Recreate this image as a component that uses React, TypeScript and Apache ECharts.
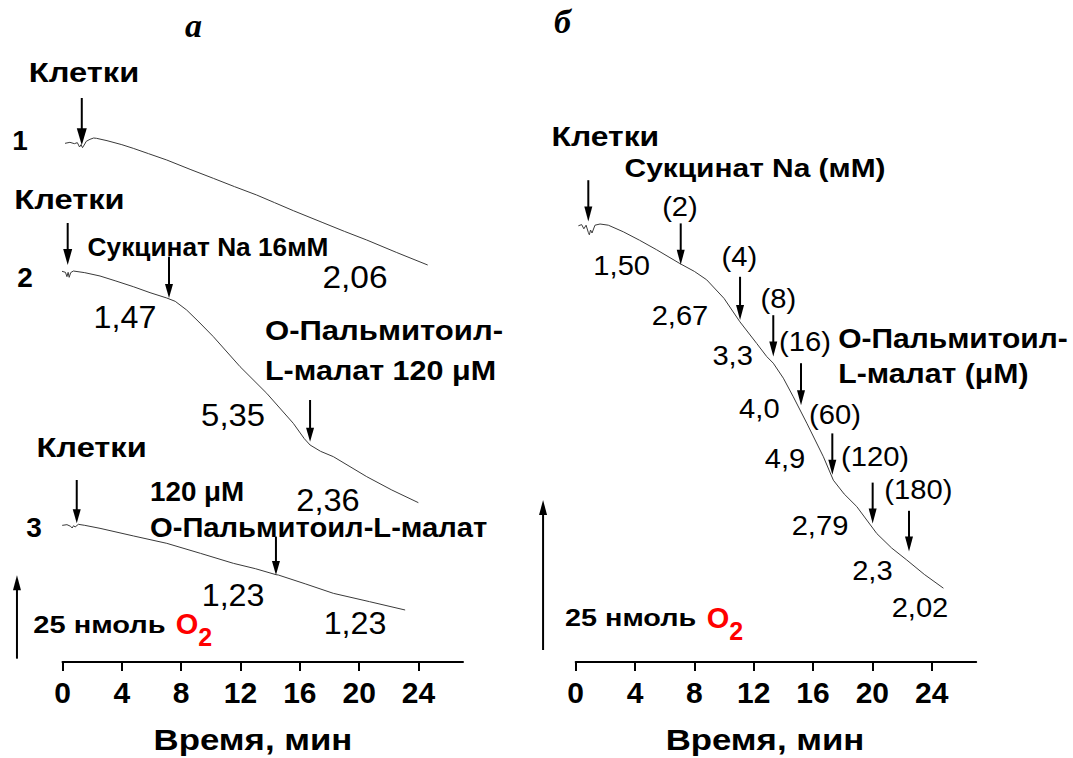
import React, { useEffect, useRef } from "react";
import * as echarts from "echarts";

const FONT = '"Liberation Sans", Arial, Helvetica, sans-serif';

// x axis ticks (minutes)
const xTicks = [0, 4, 8, 12, 16, 20, 24];
const xName = "Время, мин";

// ---- Panel "а": O2 traces, [time (min), O2 (relative nmol)] ----
const traceA1 = [
  [0.17, 155.6], [0.5, 155.9], [0.8, 155.5], [1.0, 155.8], [1.15, 154.5], [1.25, 155.2],
  [1.35, 154.3], [1.5, 155.4], [1.6, 156.2], [1.85, 156.8], [2.1, 157.2], [2.3, 157.1],
  [3.0, 156.4], [4.0, 155.2], [4.77, 154.1], [5.8, 152.5], [7.03, 150.6], [8.6, 147.8],
  [10.17, 145.1], [11.6, 142.6], [13.09, 140.1], [14.3, 137.8], [15.56, 135.4],
  [17.5, 131.9], [19.0, 129.2], [20.51, 126.6], [22.5, 122.9], [24.62, 119.1],
];
const traceA2 = [
  [-0.39, 117.1], [-0.1, 117.3], [0.2, 116.9], [0.3, 115.6], [0.38, 116.9], [0.45, 115.4],
  [0.55, 116.8], [0.73, 117.3], [1.5, 116.8], [2.53, 115.8], [3.6, 114.3], [4.77, 112.6],
  [5.9, 110.8], [7.03, 109.2], [7.6, 108.2], [8.37, 105.6], [9.2, 102.0], [10.17, 97.6],
  [11.97, 88.6], [13.77, 80.6], [15.56, 71.6], [16.3, 67.0], [16.69, 65.1], [17.4, 63.2],
  [18.26, 61.6], [20.51, 55.6], [22.2, 51.6], [23.99, 47.8],
];
const traceA3 = [
  [-0.51, 41.1], [0.0, 41.0], [0.3, 41.2], [0.55, 40.7], [0.65, 40.2], [0.75, 40.9],
  [0.85, 40.5], [1.07, 41.3], [1.5, 41.0], [2.53, 40.1], [4.8, 37.8], [7.03, 35.6],
  [9.3, 32.6], [11.52, 29.6], [13.0, 28.0], [14.39, 26.2], [14.55, 26.1], [16.4, 23.4],
  [18.26, 20.6], [20.7, 18.1], [23.1, 15.6],
];

// ---- Panel "б" ----
const traceB = [
  [0.18, 72.7], [0.4, 72.9], [0.55, 72.2], [0.7, 72.8], [0.85, 71.6], [0.92, 71.2],
  [1.0, 72.0], [1.1, 71.5], [1.3, 72.8], [1.64, 73.0], [2.2, 72.8], [3.21, 71.7],
  [4.3, 70.3], [5.46, 68.7], [7.03, 66.4], [8.0, 65.1], [8.83, 63.7], [10.0, 60.6],
  [11.07, 56.7], [12.2, 53.1], [12.88, 50.9], [13.32, 49.8], [14.0, 47.3], [14.67, 44.2],
  [15.58, 39.8], [16.7, 34.2], [17.37, 30.3], [18.1, 28.0], [18.95, 25.9], [20.3, 21.4],
  [21.3, 19.0], [22.32, 17.0], [23.5, 14.6], [24.79, 12.3],
];

// Arrows: [time, y start, y tip, head width, head length]
const arrowsA = [
  [1.3, 169.2, 155.0, 10, 17],
  [0.35, 131.7, 119.1, 9, 16],
  [7.18, 121.6, 109.2, 8, 14],
  [16.69, 78.6, 66.1, 8, 14],
  [0.96, 54.6, 41.6, 8, 14],
  [14.39, 37.6, 26.1, 8, 14],
];
const scaleA = [[-3.07, 1, 26, 8, 15]];
const arrowsB = [
  [0.85, 80.3, 73.4, 8, 15],
  [7.08, 73.1, 66.2, 8, 15],
  [11.08, 64.2, 57.0, 8, 15],
  [13.32, 57.8, 50.9, 8, 15],
  [15.19, 49.8, 42.8, 8, 15],
  [17.3, 38.1, 31.2, 8, 15],
  [20.02, 29.9, 23.1, 8, 15],
  [22.47, 25.2, 18.4, 8, 15],
];
const scaleB = [[-2.2, 2, 27, 8, 15]];

// Text annotations: [time, y, text, fontSize, weight, align, horizontal stretch]
const labelsA = [
  [1.45, 176.7, "Клетки", 27, "bold", "center", 1.21],
  [-2.87, 156.6, "1", 28, "bold", "center", 1],
  [0.47, 138.6, "Клетки", 27, "bold", "center", 1.21],
  [-2.53, 115.5, "2", 28, "bold", "center", 1],
  [9.81, 124.5, "Сукцинат Na 16мМ", 25, "bold", "center", 1.05],
  [19.72, 115.5, "2,06", 31, "normal", "center", 1.08],
  [4.21, 103.5, "1,47", 31, "normal", "center", 1.04],
  [13.65, 99.6, "О-Пальмитоил-", 28, "bold", "left", 1.11],
  [13.65, 87.6, "L-малат 120 μM", 28, "bold", "left", 1.09],
  [11.5, 74.1, "5,35", 31, "normal", "center", 1.06],
  [1.96, 64.2, "Клетки", 27, "bold", "center", 1.21],
  [-1.92, 40.5, "3", 28, "bold", "center", 1],
  [5.9, 51.0, "120 μM", 27, "bold", "left", 1.03],
  [5.9, 40.2, "О-Пальмитоил-L-малат", 27, "bold", "left", 1.08],
  [17.9, 48.6, "2,36", 31, "normal", "center", 1.05],
  [11.5, 20.1, "1,23", 31, "normal", "center", 1.04],
  [19.72, 11.7, "1,23", 31, "normal", "center", 1.04],
  [-1.97, 11.1, "25 нмоль", 24, "bold", "left", 1.21],
  [12.84, -23.4, xName, 30, "bold", "center", 1.16],
];
const labelsB = [
  [2.0, 87.6, "Клетки", 27, "bold", "center", 1.18],
  [12.09, 82.3, "Сукцинат Na (мМ)", 26, "bold", "center", 1.15],
  [7.03, 75.8, "(2)", 27, "normal", "center", 1.08],
  [3.1, 66.2, "1,50", 28, "normal", "center", 1.04],
  [11.03, 67.6, "(4)", 27, "normal", "center", 1.08],
  [7.03, 57.8, "2,67", 28, "normal", "center", 1.04],
  [13.66, 60.6, "(8)", 27, "normal", "center", 1.08],
  [15.46, 53.4, "(16)", 27, "normal", "center", 1.08],
  [17.7, 53.95, "О-Пальмитоил-", 27, "bold", "left", 1.11],
  [17.7, 48.1, "L-малат (μM)", 27, "bold", "left", 1.12],
  [10.58, 51.2, "3,3", 28, "normal", "center", 1.04],
  [17.48, 41.2, "(60)", 27, "normal", "center", 1.08],
  [12.38, 42.3, "4,0", 28, "normal", "center", 1.04],
  [20.18, 34.2, "(120)", 27, "normal", "center", 1.08],
  [14.11, 33.95, "4,9", 28, "normal", "center", 1.04],
  [23.1, 28.7, "(180)", 27, "normal", "center", 1.08],
  [16.47, 22.8, "2,79", 28, "normal", "center", 1.04],
  [20.0, 15.3, "2,3", 28, "normal", "center", 1.04],
  [23.21, 9.2, "2,02", 28, "normal", "center", 1.04],
  [-0.72, 7.3, "25 нмоль", 24, "bold", "left", 1.2],
  [12.76, -13.0, xName, 30, "bold", "center", 1.16],
];
// "O2" of the scale labels: [time, y]
const o2A = [[7.63, 9.9]];
const o2B = [[8.83, 6.5]];
const o2Text = "{r|O}{s|2}";

function arrowRender(params: any, api: any) {
  const x = api.value(0);
  const p1 = api.coord([x, api.value(1)]);
  const p2 = api.coord([x, api.value(2)]);
  const w = api.value(3);
  const h = api.value(4);
  const d = p2[1] > p1[1] ? 1 : -1;
  const by = p2[1] - d * h;
  return {
    type: "group",
    children: [
      {
        type: "line",
        shape: { x1: p1[0], y1: p1[1], x2: p2[0], y2: by + d * 2 },
        style: { stroke: "#000", lineWidth: 2 },
      },
      {
        type: "polygon",
        shape: { points: [[p2[0], p2[1]], [p2[0] - w / 2, by], [p2[0] + w / 2, by]] },
        style: { fill: "#000" },
      },
    ],
  };
}

function arrowSeries(data: number[][], idx: number) {
  return {
    type: "custom",
    xAxisIndex: idx,
    yAxisIndex: idx,
    renderItem: arrowRender,
    encode: { x: 0, y: [1, 2] },
    data,
    silent: true,
    clip: false,
    z: 5,
  };
}

function labelSeries(rows: any[], idx: number) {
  return {
    type: "custom",
    xAxisIndex: idx,
    yAxisIndex: idx,
    silent: true,
    clip: false,
    z: 6,
    encode: { x: 0, y: 1 },
    data: rows.map((r) => [r[0], r[1]]),
    renderItem: (params: any, api: any) => {
      const r = rows[params.dataIndex];
      const p = api.coord([api.value(0), api.value(1)]);
      return {
        type: "text",
        x: p[0],
        y: p[1],
        scaleX: r[6],
        style: {
          text: r[2],
          fontSize: r[3],
          fontWeight: r[4],
          fontFamily: FONT,
          fill: "#000",
          align: r[5],
          verticalAlign: "middle",
        },
      };
    },
  };
}

function o2Series(rows: number[][], idx: number) {
  return {
    type: "custom",
    xAxisIndex: idx,
    yAxisIndex: idx,
    silent: true,
    clip: false,
    z: 6,
    encode: { x: 0, y: 1 },
    data: rows,
    renderItem: (params: any, api: any) => {
      const p = api.coord([api.value(0), api.value(1)]);
      return {
        type: "text",
        x: p[0],
        y: p[1],
        style: {
          text: o2Text,
          align: "left",
          verticalAlign: "middle",
          rich: {
            r: { fontSize: 29, fontWeight: "bold", fill: "#ff0000", fontFamily: FONT, verticalAlign: "bottom", padding: [0, 0, 11, 0] },
            s: { fontSize: 25, fontWeight: "bold", fill: "#ff0000", fontFamily: FONT, verticalAlign: "bottom" },
          },
        },
      };
    },
  };
}

function traceSeries(data: number[][], idx: number) {
  return {
    type: "line",
    xAxisIndex: idx,
    yAxisIndex: idx,
    data,
    showSymbol: false,
    symbol: "none",
    clip: false,
    silent: true,
    lineStyle: { color: "#3a3a3a", width: 1 },
    z: 3,
  };
}

function xAxis(idx: number) {
  return {
    type: "value",
    gridIndex: idx,
    min: 0,
    max: 27,
    interval: 4,
    axisLine: { show: true, onZero: false, lineStyle: { color: "#000", width: 2 } },
    axisTick: { show: true, inside: false, length: 9, customValues: xTicks, lineStyle: { color: "#000", width: 2 } },
    axisLabel: {
      show: true,
      customValues: xTicks,
      margin: 15,
      color: "#000",
      fontSize: 30,
      fontWeight: "bold",
      fontFamily: FONT,
    },
    splitLine: { show: false },
  };
}

export default function App() {
  const ref = useRef<HTMLDivElement>(null);
  useEffect(() => {
    if (!ref.current) return;
    const chart = echarts.init(ref.current, undefined, { renderer: "svg" });
    chart.setOption({
      animation: false,
      backgroundColor: "#fff",
      textStyle: { fontFamily: FONT },
      grid: [
        { left: 62.5, width: 400.5, top: 62, bottom: 96 },
        { left: 575.7, width: 400.5, top: 62, bottom: 96 },
      ],
      xAxis: [xAxis(0), xAxis(1)],
      yAxis: [
        { type: "value", gridIndex: 0, min: 0, max: 180, show: false, splitLine: { show: false } },
        { type: "value", gridIndex: 1, min: 0, max: 100, show: false, splitLine: { show: false } },
      ],
      graphic: [
        {
          type: "text",
          left: 185,
          top: 8,
          style: { text: "а", font: 'italic bold 34px "Liberation Serif", serif', fill: "#000" },
        },
        {
          type: "text",
          left: 554,
          top: 4,
          style: { text: "б", font: 'italic bold 34px "Liberation Serif", serif', fill: "#000" },
        },
      ],
      series: [
        traceSeries(traceA1, 0),
        traceSeries(traceA2, 0),
        traceSeries(traceA3, 0),
        traceSeries(traceB, 1),
        arrowSeries(arrowsA, 0),
        arrowSeries(scaleA, 0),
        arrowSeries(arrowsB, 1),
        arrowSeries(scaleB, 1),
        labelSeries(labelsA, 0),
        labelSeries(labelsB, 1),
        o2Series(o2A, 0),
        o2Series(o2B, 1),
      ],
    });
    return () => chart.dispose();
  }, []);
  return (
    <div
      ref={ref}
      style={{ position: "fixed", left: 0, top: 0, width: 1073, height: 758, background: "#fff" }}
    />
  );
}
